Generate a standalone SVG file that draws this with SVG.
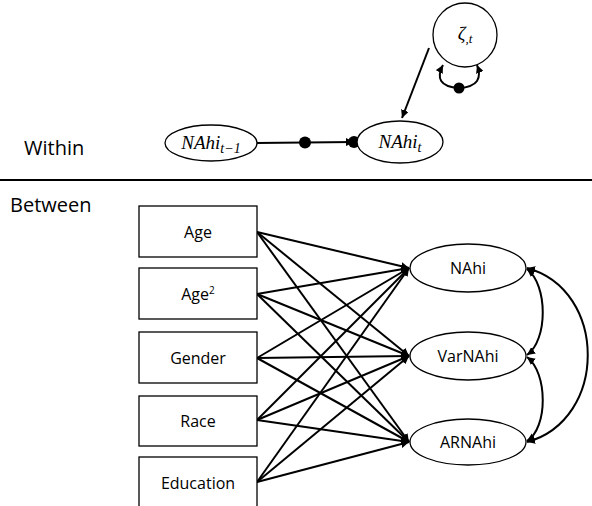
<svg xmlns="http://www.w3.org/2000/svg" width="592" height="506" viewBox="0 0 592 506">
<defs>
<marker id="ah" viewBox="0 0 10 10" refX="10" refY="5" markerWidth="4" markerHeight="4" orient="auto-start-reverse" markerUnits="strokeWidth">
<path d="M0,0 L10,5 L0,10 z" fill="#000"/>
</marker>
</defs>
<style>
.n{fill:#fff;stroke:#000;stroke-width:1.3}
.e{fill:none;stroke:#000;stroke-width:2}
.t{font-family:"Open Sans","Liberation Sans",sans-serif;font-size:16px;text-anchor:middle;fill:#000}
.m{font-family:"Liberation Serif","DejaVu Serif",serif;font-style:italic;font-size:19px;text-anchor:middle;fill:#000}
.lab{font-family:"Open Sans","Liberation Sans",sans-serif;font-size:20px;fill:#000}
</style>
<rect width="592" height="506" fill="#fff"/>
<text class="lab" x="24" y="155">Within</text>
<text class="lab" x="10" y="212">Between</text>
<line x1="0" y1="180" x2="592" y2="180" stroke="#000" stroke-width="2"/>
<g id="connectors">
<line class="e" x1="256" y1="143" x2="354" y2="142" marker-end="url(#ah)"/>
<line class="e" x1="429" y1="48" x2="402" y2="118" marker-end="url(#ah)"/>
<path class="e" d="M443,65 C436,78 440,87 459,88 C478,87 482,78 477,65" marker-start="url(#ah)" marker-end="url(#ah)"/>
<g marker-end="url(#ah)">
<line class="e" x1="257" y1="232" x2="409" y2="268"/>
<line class="e" x1="257" y1="232" x2="409" y2="356"/>
<line class="e" x1="257" y1="232" x2="409" y2="442"/>
<line class="e" x1="257" y1="294" x2="409" y2="268"/>
<line class="e" x1="257" y1="294" x2="409" y2="356"/>
<line class="e" x1="257" y1="294" x2="409" y2="442"/>
<line class="e" x1="257" y1="358" x2="409" y2="268"/>
<line class="e" x1="257" y1="358" x2="409" y2="356"/>
<line class="e" x1="257" y1="358" x2="409" y2="442"/>
<line class="e" x1="257" y1="420" x2="409" y2="268"/>
<line class="e" x1="257" y1="420" x2="409" y2="356"/>
<line class="e" x1="257" y1="420" x2="409" y2="442"/>
<line class="e" x1="257" y1="482" x2="409" y2="268"/>
<line class="e" x1="257" y1="482" x2="409" y2="356"/>
<line class="e" x1="257" y1="482" x2="409" y2="442"/>
</g>
<path class="e" d="M527,269 C548,285 548,340 527,355" marker-start="url(#ah)" marker-end="url(#ah)"/>
<path class="e" d="M527,357 C548,373 548,428 527,441" marker-start="url(#ah)" marker-end="url(#ah)"/>
<path class="e" d="M527,268 C608,290 608,420 527,442" marker-start="url(#ah)" marker-end="url(#ah)"/>
</g>
<g id="dots">
<circle cx="305" cy="142.5" r="6" fill="#000"/>
<circle cx="354" cy="142" r="6" fill="#000"/>
<circle cx="459" cy="88" r="5.5" fill="#000"/>
</g>
<g id="NAhi_tm1"><ellipse class="n" cx="211" cy="143" rx="46" ry="18"/><text class="m" x="211" y="149">NAhi<tspan font-size="14" dy="4">t−1</tspan></text></g>
<g id="NAhi_t"><ellipse class="n" cx="400" cy="142" rx="43" ry="21"/><text class="m" x="400" y="148">NAhi<tspan font-size="14" dy="4">t</tspan></text></g>
<g id="zeta"><circle class="n" cx="465" cy="35" r="32"/><text class="m" x="465" y="40" font-style="normal">ζ<tspan font-size="13" dy="3">,<tspan font-style="italic">t</tspan></tspan></text></g>
<g id="age"><rect class="n" x="139" y="206" width="118" height="51"/><text class="t" x="198" y="238">Age</text></g>
<g id="age2"><rect class="n" x="139" y="268" width="118" height="51"/><text class="t" x="198" y="300">Age<tspan font-size="10" dy="-6">2</tspan></text></g>
<g id="gender"><rect class="n" x="139" y="332" width="118" height="51"/><text class="t" x="198" y="364">Gender</text></g>
<g id="race"><rect class="n" x="139" y="396" width="118" height="50"/><text class="t" x="198" y="427">Race</text></g>
<g id="education"><rect class="n" x="139" y="457" width="118" height="60"/><text class="t" x="198" y="489">Education</text></g>
<g id="nahi"><ellipse class="n" cx="468" cy="268" rx="58" ry="24"/><text class="t" x="468" y="274">NAhi</text></g>
<g id="varnahi"><ellipse class="n" cx="468" cy="356" rx="58" ry="24"/><text class="t" x="468" y="362">VarNAhi</text></g>
<g id="arnahi"><ellipse class="n" cx="468" cy="442" rx="58" ry="23"/><text class="t" x="468" y="448">ARNAhi</text></g>
</svg>
